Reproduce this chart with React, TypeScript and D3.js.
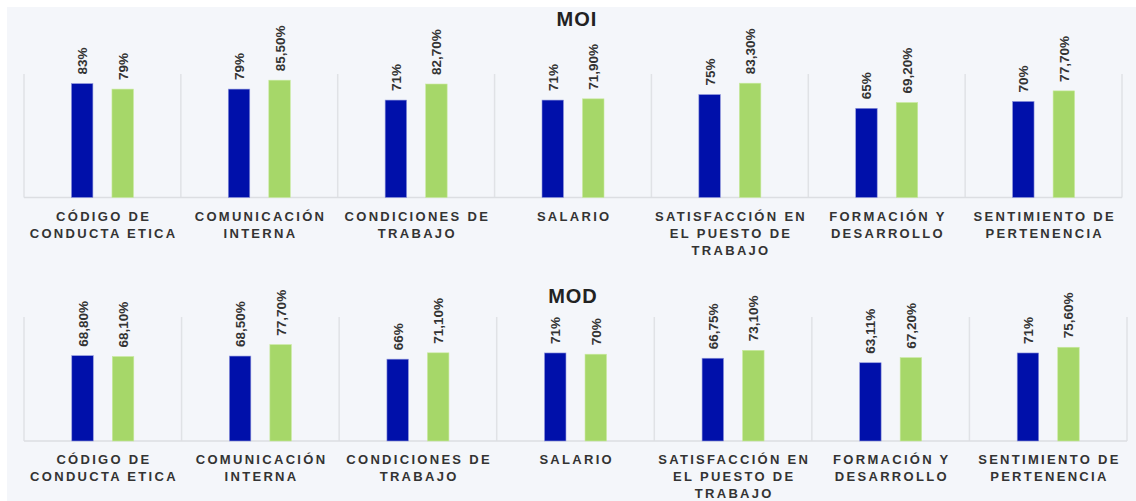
import React from "react";
import * as d3 from "d3";

const categories = [
  ["CÓDIGO DE", "CONDUCTA ETICA"],
  ["COMUNICACIÓN", "INTERNA"],
  ["CONDICIONES DE", "TRABAJO"],
  ["SALARIO"],
  ["SATISFACCIÓN EN", "EL PUESTO DE", "TRABAJO"],
  ["FORMACIÓN Y", "DESARROLLO"],
  ["SENTIMIENTO DE", "PERTENENCIA"],
];
const series = ["s1", "s2"];
const moiBlue = [83, 79, 71, 71, 75, 65, 70];
const moiGreen = [79, 85.5, 82.7, 71.9, 83.3, 69.2, 77.7];
const modBlue = [68.8, 68.5, 66, 71, 66.75, 63.11, 71];
const modGreen = [68.1, 77.7, 71.1, 70, 73.1, 67.2, 75.6];

const W = 1136;
const H = 501;
const COLORS = ["#0010AA", "#A6D769"];
const FONT = "Arial, 'Liberation Sans', sans-serif";

const fmt = (v: number) =>
  Number.isInteger(v) ? `${v}%` : `${v.toFixed(2).replace(".", ",")}%`;

type PanelProps = {
  title: string;
  titleX: number;
  titleY: number;
  blue: number[];
  green: number[];
  x0: number;
  x1: number;
  top: number;
  base: number;
  yMax: number;
  labelY: number;
};

function Panel(p: PanelProps) {
  const keys = categories.map((c) => c.join(" "));
  const x = d3.scaleBand<string>().domain(keys).range([p.x0, p.x1]).padding(0);
  const xs = d3.scaleBand<string>().domain(series).range([-31, 31]).paddingInner(0.47);
  const y = d3.scaleLinear().domain([0, p.yMax]).range([p.base, p.top]);
  const bounds = [...keys.map((k) => x(k) as number), p.x1];
  return (
    <g>
      <text
        x={p.titleX}
        y={p.titleY}
        textAnchor="middle"
        fontFamily={FONT}
        fontWeight="bold"
        fontSize={20}
        fill="#222"
        letterSpacing={1}
      >
        {p.title}
      </text>
      {bounds.map((bx, i) => (
        <line key={i} x1={bx} x2={bx} y1={p.top} y2={p.base} stroke="#e0e2e6" strokeWidth={1.5} />
      ))}
      <line x1={p.x0} x2={p.x1} y1={p.base} y2={p.base} stroke="#dcdee2" strokeWidth={1.5} />
      {keys.map((k, i) => {
        const cx = (x(k) as number) + x.bandwidth() / 2;
        const vals = [p.blue[i], p.green[i]];
        return (
          <g key={k}>
            {vals.map((v, j) => {
              const bx = cx + (xs(series[j]) as number);
              const bw = xs.bandwidth();
              return (
                <g key={j}>
                  <rect
                    x={bx}
                    y={y(v)}
                    width={bw}
                    height={p.base - y(v)}
                    fill={COLORS[j]}
                    stroke={j === 0 ? "#8f96dc" : "#c9ea9f"}
                    strokeWidth={0.6}
                  />
                  <text
                    transform={`translate(${bx + bw / 2 + 5},${y(v) - 9}) rotate(-90)`}
                    fontFamily={FONT}
                    fontWeight="bold"
                    fontSize={13.5}
                    fill="#333"
                  >
                    {fmt(v)}
                  </text>
                </g>
              );
            })}
            <text
              textAnchor="middle"
              fontFamily={FONT}
              fontWeight="bold"
              fontSize={13}
              letterSpacing={2.3}
              fill="#333"
            >
              {categories[i].map((line, li) => (
                <tspan key={li} x={cx + 1.2} y={p.labelY + li * 17}>
                  {line}
                </tspan>
              ))}
            </text>
          </g>
        );
      })}
    </g>
  );
}

export default function App() {
  return (
    <svg
      width={W}
      height={H}
      style={{ position: "absolute", left: 0, top: 0, display: "block" }}
    >
      <rect x={0} y={0} width={W} height={H} fill="#ffffff" />
      <rect x={7} y={7} width={W - 7} height={H - 7} fill="#f4f6fa" />
      <Panel
        title="MOI"
        titleX={577}
        titleY={26}
        blue={moiBlue}
        green={moiGreen}
        x0={24}
        x1={1122}
        top={74}
        base={197.5}
        yMax={90}
        labelY={221}
      />
      <Panel
        title="MOD"
        titleX={573}
        titleY={303}
        blue={modBlue}
        green={modGreen}
        x0={24}
        x1={1127}
        top={317}
        base={441}
        yMax={100}
        labelY={464}
      />
    </svg>
  );
}
